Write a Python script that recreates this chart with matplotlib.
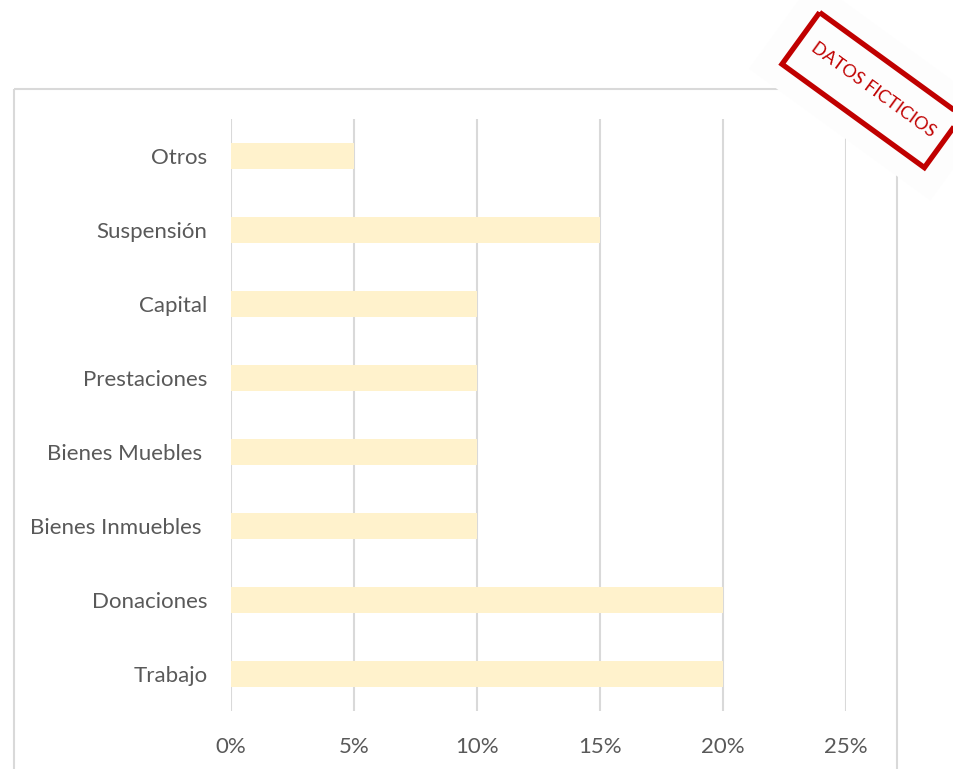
import matplotlib.pyplot as plt
from matplotlib.patches import Rectangle
from matplotlib.ticker import FuncFormatter

# data (bottom to top)
categories = ["Trabajo", "Donaciones", "Bienes Inmuebles ", "Bienes Muebles ",
              "Prestaciones", "Capital", "Suspensión", "Otros"]
values = [20, 20, 10, 10, 10, 10, 15, 5]
x_ticks = [0, 5, 10, 15, 20, 25]

W, H = 954, 769
fig = plt.figure(figsize=(W / 100, H / 100), dpi=100)

txt_color = "#595959"
grid_color = "#d9d9d9"

# main plot area (pixel positions)
ax = fig.add_axes([231 / W, 1 - 711 / H, (846 - 231) / W, (711 - 119) / H])
ax.barh(range(len(categories)), values, height=0.35, color="#FFF2CC", zorder=2)
ax.set_xlim(0, 25)
ax.set_ylim(-0.5, len(categories) - 0.5)
ax.set_xticks(x_ticks)
ax.xaxis.set_major_formatter(FuncFormatter(lambda v, p: f"{v:.0f}%"))
ax.set_yticks(range(len(categories)))
ax.set_yticklabels(categories)
ax.grid(axis="x", color=grid_color, lw=1.5, zorder=0)
ax.tick_params(length=0, labelsize=16, colors=txt_color)
ax.tick_params(axis="x", pad=19)
ax.tick_params(axis="y", pad=17)
for lbl in ax.get_xticklabels() + ax.get_yticklabels():
    lbl.set_fontfamily("Lato")
for s in ax.spines.values():
    s.set_visible(False)

# overlay in pixel coordinates for chart border and stamp
ov = fig.add_axes([0, 0, 1, 1], zorder=5)
ov.set_xlim(0, W)
ov.set_ylim(H, 0)
ov.axis("off")
ov.patch.set_alpha(0)

# chart area border (runs off the bottom of the image)
ov.add_patch(Rectangle((14, 89), 897 - 14, 800, fill=False,
                       edgecolor=grid_color, lw=1.5, clip_on=False))

# "DATOS FICTICIOS" stamp
cx, cy = 872, 90
ov.add_patch(Rectangle((cx - 112, cy - 55), 224, 110, angle=36,
                       rotation_point="center", facecolor="#fdfdfd",
                       edgecolor="none"))
ov.add_patch(Rectangle((cx - 88, cy - 32), 176, 64, angle=36,
                       rotation_point="center", fill=False,
                       edgecolor="#c00000", lw=3.8))
ov.text(cx + 1, cy, "DATOS FICTICIOS", rotation=-36, color="#c00000",
        fontsize=13, fontfamily="Lato", ha="center", va="center",
        rotation_mode="anchor")

fig.savefig("out.png", dpi=100)
